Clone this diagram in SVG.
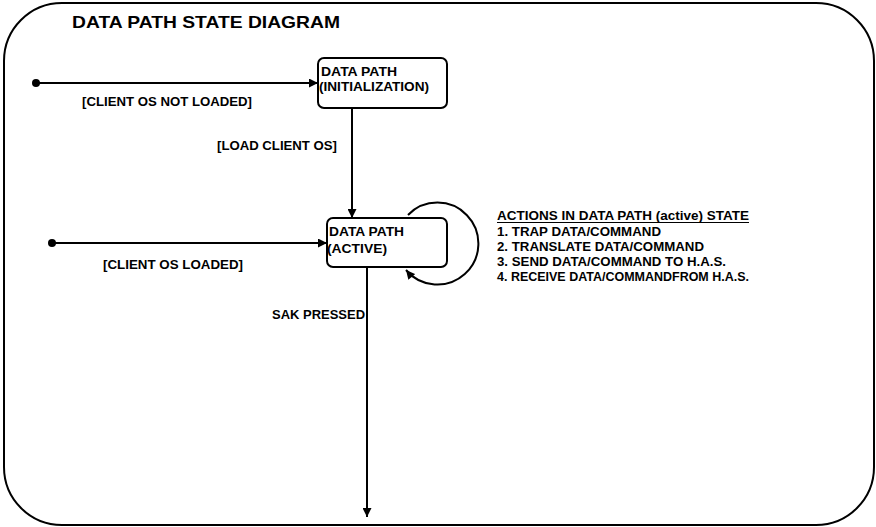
<svg xmlns="http://www.w3.org/2000/svg" width="876" height="527" viewBox="0 0 876 527">
  <style>
    .frame { fill: none; stroke: #000; stroke-width: 2; }
    .state { fill: #fff; stroke: #000; stroke-width: 2; }
    .edge { fill: none; stroke: #000; stroke-width: 2; }
    .start { fill: #000; }
    text { font-family: "Liberation Sans", Arial, sans-serif; font-weight: bold; fill: #000; }
    .title { font-size: 16.5px; }
    .lbl { font-size: 12.5px; }
    .act { font-size: 13px; }
  </style>
  <defs>
    <marker id="arrow" viewBox="0 0 10 10" refX="10" refY="5" markerWidth="10" markerHeight="9" markerUnits="userSpaceOnUse" orient="auto">
      <path d="M0,0 L10,5 L0,10 Z" fill="#000"/>
    </marker>
  </defs>

  <!-- outer frame -->
  <rect class="frame" x="4" y="3" width="870" height="522" rx="58" ry="58"/>
  <text class="title" x="72" y="28" textLength="268" lengthAdjust="spacingAndGlyphs">DATA PATH STATE DIAGRAM</text>

  <!-- connectors -->
  <g id="connectors">
    <circle class="start" cx="36" cy="83" r="4"/>
    <line class="edge" x1="36" y1="83" x2="318" y2="83" marker-end="url(#arrow)"/>
    <circle class="start" cx="52" cy="243" r="4"/>
    <line class="edge" x1="52" y1="243" x2="327" y2="243" marker-end="url(#arrow)"/>
    <line class="edge" x1="352" y1="108" x2="352" y2="218" marker-end="url(#arrow)"/>
    <line class="edge" x1="367" y1="267" x2="367" y2="517" marker-end="url(#arrow)"/>
    <path class="edge" d="M408,215 A41,41 0 1 1 406,270" marker-end="url(#arrow)"/>
    <text class="lbl" x="82" y="106" textLength="170" lengthAdjust="spacingAndGlyphs">[CLIENT OS NOT LOADED]</text>
    <text class="lbl" x="103" y="269" textLength="140" lengthAdjust="spacingAndGlyphs">[CLIENT OS LOADED]</text>
    <text class="lbl" x="217" y="150" textLength="120" lengthAdjust="spacingAndGlyphs">[LOAD CLIENT OS]</text>
    <text class="lbl" x="272" y="319" textLength="93" lengthAdjust="spacingAndGlyphs">SAK PRESSED</text>
  </g>

  <!-- states -->
  <g id="init">
    <rect class="state" x="318" y="58" width="129" height="50" rx="6" ry="6"/>
    <text class="lbl" x="321" y="76" textLength="76" lengthAdjust="spacingAndGlyphs">DATA PATH</text>
    <text class="lbl" x="319" y="91" textLength="110" lengthAdjust="spacingAndGlyphs">(INITIALIZATION)</text>
  </g>
  <g id="active">
    <rect class="state" x="327" y="218" width="120" height="49" rx="6" ry="6"/>
    <text class="lbl" x="329" y="236" textLength="75" lengthAdjust="spacingAndGlyphs">DATA PATH</text>
    <text class="lbl" x="327" y="253" textLength="60" lengthAdjust="spacingAndGlyphs">(ACTIVE)</text>
  </g>

  <!-- action list for the active state -->
  <g id="actions">
    <text class="act" x="497" y="220" textLength="252" lengthAdjust="spacingAndGlyphs">ACTIONS IN DATA PATH (active) STATE</text>
    <line x1="497" y1="222.5" x2="749" y2="222.5" stroke="#000" stroke-width="1.2"/>
    <text class="act" x="497" y="236" textLength="164" lengthAdjust="spacingAndGlyphs">1. TRAP DATA/COMMAND</text>
    <text class="act" x="497" y="251" textLength="207" lengthAdjust="spacingAndGlyphs">2. TRANSLATE DATA/COMMAND</text>
    <text class="act" x="497" y="266" textLength="229" lengthAdjust="spacingAndGlyphs">3. SEND DATA/COMMAND TO H.A.S.</text>
    <text class="act" x="497" y="281" textLength="252" lengthAdjust="spacingAndGlyphs">4. RECEIVE DATA/COMMANDFROM H.A.S.</text>
  </g>
</svg>
